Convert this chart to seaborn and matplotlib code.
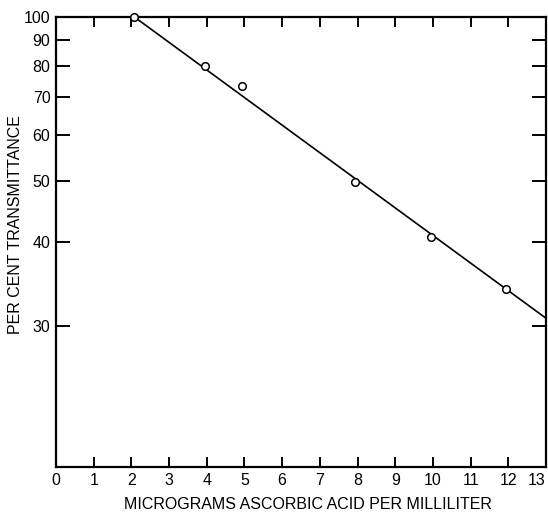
import numpy as np
import pandas as pd
import matplotlib
matplotlib.use("Agg")
import matplotlib.pyplot as plt
import matplotlib.transforms as mtransforms
import seaborn as sns

# Data
conc_points = [2.08, 3.94, 4.93, 7.94, 9.95, 11.95]
trans_points = [100, 80, 73.4, 49.8, 40.7, 34.0]
line_conc = [2.08, 13.0]
line_trans = [100, 30.8]
x_ticks = list(range(0, 14))
y_ticks = [30, 40, 50, 60, 70, 80, 90, 100]

sns.set_theme(style="white")
plt.rcParams['font.family'] = ['Liberation Sans', 'DejaVu Sans']

fig = plt.figure(figsize=(5.48, 5.14), dpi=100)
ax = fig.add_axes([56/548, 1-467/514, (546-56)/548, (467-17)/514])

P = 0.3
def fwd(t):
    t = np.clip(np.asarray(t, dtype=float), 1e-6, None)
    return -np.power(t, -P)
def inv(v):
    v = np.clip(-np.asarray(v, dtype=float), 1e-9, None)
    return np.power(v, -1.0/P)
ax.set_yscale('function', functions=(fwd, inv))

df_line = pd.DataFrame({"x": line_conc, "y": line_trans})
df_pts = pd.DataFrame({"x": conc_points, "y": trans_points})
sns.lineplot(data=df_line, x="x", y="y", ax=ax, color="black", linewidth=1.2)
sns.scatterplot(data=df_pts, x="x", y="y", ax=ax, marker="o", s=30,
                facecolor="white", edgecolor="black", linewidth=1.1, zorder=5,
                clip_on=False)

ax.set_xlim(0, 13)
ax.set_ylim(19.5, 100)
ax.set_xticks(x_ticks)
ax.set_xticklabels([str(v) for v in x_ticks])
ax.set_yticks(y_ticks)
ax.set_yticklabels([str(v) for v in y_ticks])
ax.yaxis.set_minor_locator(matplotlib.ticker.NullLocator())

ax.tick_params(axis='x', direction='in', length=7, width=1.4, top=True, bottom=True,
               labelsize=11.5, pad=4, colors='black')
ax.tick_params(axis='y', direction='in', length=10, width=1.4, left=True, right=True,
               labelsize=11.5, pad=4, colors='black')
for s in ax.spines.values():
    s.set_visible(True)
    s.set_color('black')
    s.set_linewidth(1.6)

# nudge last x tick label so it stays inside the figure
last = ax.get_xticklabels()[-1]
last.set_transform(last.get_transform() +
                   mtransforms.ScaledTranslation(-9/100, 0, fig.dpi_scale_trans))

ax.set_xlabel("MICROGRAMS ASCORBIC ACID PER MILLILITER", fontsize=11.5, color='black')
ax.set_ylabel("PER CENT TRANSMITTANCE", fontsize=11.5, color='black')
ax.xaxis.set_label_coords(0.514, -0.066)
ax.yaxis.set_label_coords(-0.068, 0.538)

fig.savefig("out.png", dpi=100)
